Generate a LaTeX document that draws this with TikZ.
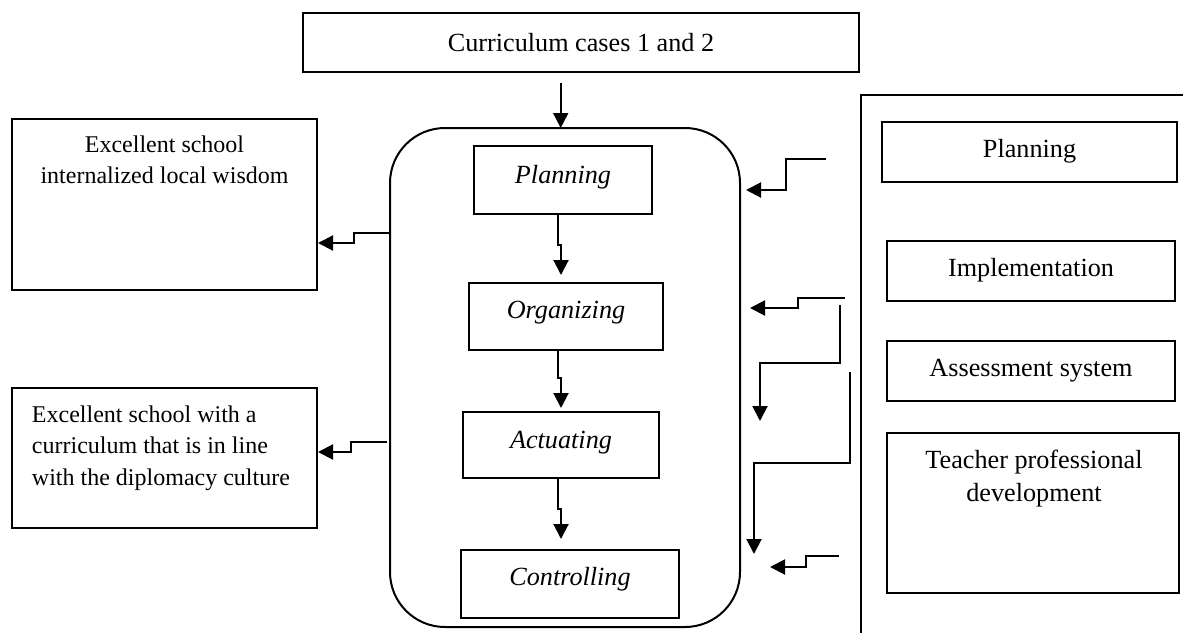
\documentclass[tikz,border=0pt]{standalone}
\usepackage{fontspec}
\setmainfont{Liberation Serif}
\usetikzlibrary{arrows.meta,fit}
\begin{document}
\begin{tikzpicture}[x=0.5pt,y=-0.5pt,
  box/.style={draw, line width=1pt, inner sep=0pt, outer sep=0pt},
  lbl/.style={inner sep=0pt, outer sep=0pt, font=\fontsize{13.1}{15.6}\selectfont},
  slbl/.style={inner sep=0pt, outer sep=0pt, font=\fontsize{12}{15.6}\selectfont},
  ilbl/.style={inner sep=0pt, outer sep=0pt, font=\fontsize{13.1}{15.6}\selectfont\itshape},
  arr/.style={line width=1pt, -{Triangle[width=7.5pt,length=7.5pt]}},
  ln/.style={line width=1pt}]
\useasboundingbox (0,0) rectangle (1183,632);
\fill[white] (0,0) rectangle (1183,632);

% top box
\node[box, fit={(303,13)(859,72)}] (top) {};
\node[lbl] (topt) at (top.center) {Curriculum cases 1 and 2};

% central frame and steps
\node[box, rounded corners=27.5pt, fit={(390,128)(740,627)}] (frame) {};
\node[box, fit={(474,146)(652,214)}] (pl) {};
\node[ilbl, anchor=base] (plt) at (563,183) {Planning};
\node[box, fit={(469,283)(663,350)}] (org) {};
\node[ilbl, anchor=base] (orgt) at (566,318) {Organizing};
\node[box, fit={(463,412)(659,478)}] (act) {};
\node[ilbl, anchor=base] (actt) at (561,448) {Actuating};
\node[box, fit={(461,550)(679,618)}] (ctl) {};
\node[ilbl, anchor=base] (ctlt) at (570,585) {Controlling};

% left boxes
\node[box, fit={(12,119)(317,290)}] (ex1) {};
\node[slbl, anchor=north, align=center] (ex1t) at (164.5,135.5) {Excellent school\\internalized local wisdom};
\node[box, fit={(12,388)(317,528)}] (ex2) {};
\node[slbl, anchor=north west, align=left, font=\fontsize{12}{15.75}\selectfont] (ex2t) at (32,405.5) {Excellent school with a\\curriculum that is in line\\with the diplomacy culture};

% right open frame and boxes
\coordinate (rfb) at (861,640);
\coordinate (rfc) at (861,95);
\coordinate (rfe) at (1190,95);
\draw[ln] (rfb) -- (rfc) -- (rfe);
\node[box, fit={(882,122)(1177,182)}] (rp) {};
\node[lbl, anchor=base] (rpt) at (1029.5,157) {Planning};
\node[box, fit={(887,241)(1175,301)}] (imp) {};
\node[lbl, anchor=base] (impt) at (1031,276) {Implementation};
\node[box, fit={(887,341)(1175,401)}] (ass) {};
\node[lbl, anchor=base] (asst) at (1031,376) {Assessment system};
\node[box, fit={(887,433)(1179,593)}] (tpd) {};
\node[lbl, anchor=north, align=center, font=\fontsize{13.1}{16.5}\selectfont] (tpdt) at (1034,450) {Teacher professional\\development};

% top arrow
\draw[arr] ([yshift=-5.5pt]top.south -| 560.7,0) -- (frame.north -| 560.7,0);

% arrows between steps
\draw[arr] (pl.south -| 558,0) |- (561,245) -- ([yshift=4pt]org.north -| 561,0);
\draw[arr] (org.south -| 558,0) |- (561,378) -- ([yshift=2pt]act.north -| 561,0);
\draw[arr] (act.south -| 558,0) |- (561,509) -- ([yshift=5.5pt]ctl.north -| 561,0);

% left arrows
\draw[arr] (frame.west |- 0,233) -| (354,243) -- ([xshift=0.5pt]ex1.east |- 0,243);
\draw[arr] ([xshift=-1.5pt]frame.west |- 0,442) -| (351,452) -- ([xshift=0.5pt]ex2.east |- 0,452);

% right arrows
\coordinate (r1) at (826,159);
\coordinate (r2) at (845,298);
\coordinate (r3) at (840,305);
\coordinate (r4) at (850,372);
\coordinate (r5) at (839,556);
\draw[arr] (r1) -| (786,190) -- ([xshift=3pt]frame.east |- 0,190);
\draw[arr] (r2) -| (798,308) -- ([xshift=5pt]frame.east |- 0,308);
\draw[arr] (r3) |- (760,363) -- (760,421);
\draw[arr] (r4) |- (754,463) -- (754,554);
\draw[arr] (r5) -| (806,567) -- ([xshift=15pt]frame.east |- 0,567);
\end{tikzpicture}
\end{document}
